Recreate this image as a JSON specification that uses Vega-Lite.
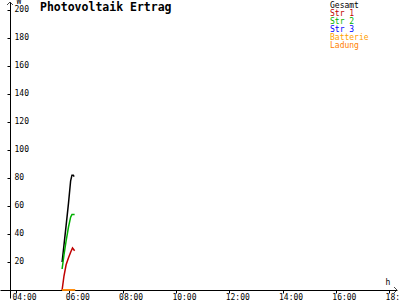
{
  "$schema": "https://vega.github.io/schema/vega-lite/v6.json",
  "width": 397,
  "height": 296,
  "autosize": {"type": "none"},
  "padding": {"left": 0, "top": 2, "right": 3, "bottom": 2},
  "background": "white",
  "title": {
    "text": "Photovoltaik Ertrag",
    "anchor": "start",
    "frame": "group",
    "orient": "top",
    "offset": -25,
    "dx": 40,
    "baseline": "alphabetic",
    "font": "DejaVu Sans Mono",
    "fontSize": 11.5,
    "fontWeight": "bold",
    "color": "#000000"
  },
  "config": {
    "view": {"stroke": null},
    "font": "DejaVu Sans Mono",
    "axis": {"labelOverlap": false, "titleColor": "#000000", "labelColor": "#000000"}
  },
  "datasets": {
    "pv": [
      {"t": 5.73, "v": 20, "s": "Gesamt"},
      {"t": 5.8, "v": 32, "s": "Gesamt"},
      {"t": 5.88, "v": 46, "s": "Gesamt"},
      {"t": 5.97, "v": 62, "s": "Gesamt"},
      {"t": 6.05, "v": 78, "s": "Gesamt"},
      {"t": 6.1, "v": 82, "s": "Gesamt"},
      {"t": 6.15, "v": 82, "s": "Gesamt"},
      {"t": 6.18, "v": 81, "s": "Gesamt"},
      {"t": 5.73, "v": 15, "s": "Str 2"},
      {"t": 5.8, "v": 25, "s": "Str 2"},
      {"t": 5.88, "v": 35, "s": "Str 2"},
      {"t": 5.97, "v": 45, "s": "Str 2"},
      {"t": 6.05, "v": 52, "s": "Str 2"},
      {"t": 6.1, "v": 54, "s": "Str 2"},
      {"t": 6.2, "v": 54, "s": "Str 2"},
      {"t": 5.73, "v": 0, "s": "Str 1"},
      {"t": 5.8, "v": 10, "s": "Str 1"},
      {"t": 5.88, "v": 18, "s": "Str 1"},
      {"t": 5.97, "v": 23, "s": "Str 1"},
      {"t": 6.05, "v": 27, "s": "Str 1"},
      {"t": 6.12, "v": 30, "s": "Str 1"},
      {"t": 6.2, "v": 28, "s": "Str 1"},
      {"t": 5.73, "v": 0, "s": "Batterie"},
      {"t": 6.22, "v": 0, "s": "Batterie"},
      {"t": 5.73, "v": 0, "s": "Ladung"},
      {"t": 6.22, "v": 0, "s": "Ladung"}
    ],
    "arrows": [
      {"t": 3.775, "v": 205.7, "k": "up"},
      {"t": 18.296, "v": 0, "k": "right"}
    ]
  },
  "encoding": {
    "x": {
      "field": "t",
      "type": "quantitative",
      "scale": {"domain": [3.3996, 18.296], "nice": false, "zero": false},
      "axis": {
        "orient": "bottom",
        "offset": -8,
        "zindex": 0,
        "values": [4, 6, 8, 10, 12, 14, 16, 18],
        "labelExpr": "(datum.value < 10 ? '0' : '') + datum.value + ':00'",
        "labelAlign": "left",
        "labelOffset": -4,
        "labelBaseline": "top",
        "labelPadding": 0,
        "labelFlush": false,
        "labelOverlap": false,
        "labelFont": "DejaVu Sans Mono",
        "labelFontSize": 8,
        "labelColor": "#000000",
        "tickSize": 3,
        "tickColor": "#000000",
        "domainColor": "#000000",
        "grid": false,
        "title": "h",
        "titleX": 385,
        "titleY": -6,
        "titleAlign": "left",
        "titleBaseline": "alphabetic",
        "titleFont": "DejaVu Sans Mono",
        "titleFontSize": 8,
        "titleFontWeight": "normal",
        "titleColor": "#000000"
      }
    },
    "y": {
      "field": "v",
      "type": "quantitative",
      "scale": {"domain": [-5.714, 205.71], "nice": false, "zero": false},
      "axis": {
        "orient": "left",
        "offset": -10,
        "zindex": 0,
        "values": [20, 40, 60, 80, 100, 120, 140, 160, 180, 200],
        "labelAlign": "left",
        "labelBaseline": "middle",
        "labelPadding": -7,
        "labelOverlap": false,
        "labelFont": "DejaVu Sans Mono",
        "labelFontSize": 8,
        "labelColor": "#000000",
        "tickSize": 3,
        "tickColor": "#000000",
        "domainColor": "#000000",
        "grid": false,
        "title": "W",
        "titleX": 6,
        "titleY": 1,
        "titleAngle": 0,
        "titleAlign": "left",
        "titleBaseline": "alphabetic",
        "titleFont": "DejaVu Sans Mono",
        "titleFontSize": 8,
        "titleFontWeight": "normal",
        "titleColor": "#000000"
      }
    }
  },
  "layer": [
    {
      "data": {"name": "pv"},
      "mark": {"type": "line", "strokeWidth": 1.5, "interpolate": "linear"},
      "encoding": {
        "color": {
          "field": "s",
          "type": "nominal",
          "scale": {
            "domain": ["Gesamt", "Str 1", "Str 2", "Str 3", "Batterie", "Ladung"],
            "range": ["#000000", "#c00000", "#00b000", "#0000ff", "#ffa000", "#ff8000"]
          },
          "legend": {
            "orient": "none",
            "legendX": 322,
            "legendY": 0,
            "title": null,
            "padding": 0,
            "symbolSize": 0,
            "symbolStrokeWidth": 0,
            "symbolOpacity": 0,
            "labelOffset": 0,
            "rowPadding": 0,
            "labelFont": "DejaVu Sans Mono",
            "labelFontSize": 8,
            "encode": {
              "labels": {"update": {"fill": {"signal": "scale('color', datum.value)"}}}
            }
          }
        },
        "order": {"field": "s"}
      }
    },
    {
      "data": {"name": "arrows"},
      "mark": {"type": "point", "filled": false, "size": 36, "strokeWidth": 1, "color": "#000000"},
      "encoding": {
        "shape": {
          "field": "k",
          "type": "nominal",
          "scale": {"domain": ["up", "right"], "range": ["M-1,1L0,0L1,1", "M-1,-1L0,0L-1,1"]},
          "legend": null
        }
      }
    }
  ]
}
